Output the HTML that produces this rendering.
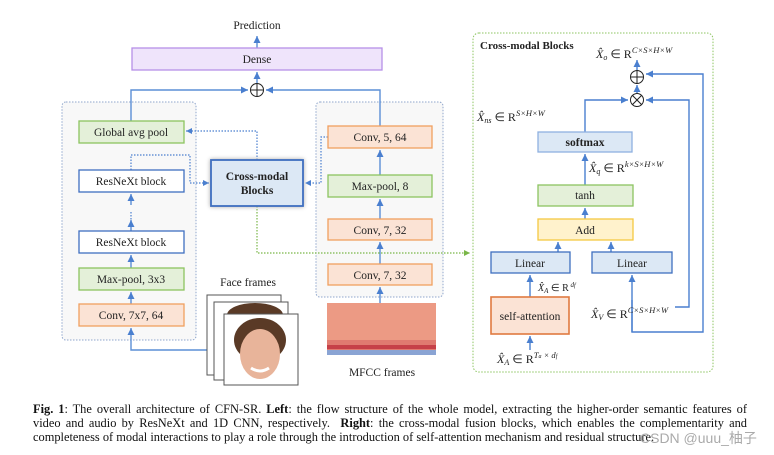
<!DOCTYPE html>
<html><head><meta charset="utf-8"><style>
html,body{margin:0;padding:0;background:#fff;}
svg{display:block;font-family:"Liberation Serif",serif;}
.cap{position:absolute;left:33px;width:714px;font:12.4px/14px "Liberation Serif",serif;color:#111;white-space:nowrap;}
.j{text-align:justify;text-align-last:justify;}
</style></head><body>
<div style="position:relative;width:774px;height:455px;overflow:hidden">
<svg width="774" height="455" viewBox="0 0 774 455" xmlns="http://www.w3.org/2000/svg">
<defs>
<marker id="a" markerWidth="6" markerHeight="6" refX="5" refY="3" orient="auto"><path d="M0,0.5 L5,3 L0,5.5z" fill="#4a7fcf"/></marker>
<marker id="g" markerWidth="6" markerHeight="6" refX="5" refY="3" orient="auto"><path d="M0,0.5 L5,3 L0,5.5z" fill="#7ab648"/></marker>
</defs>
<g font-size="11.5" fill="#222" text-anchor="middle">
<text x="257" y="29">Prediction</text>
<rect x="62" y="102" width="134" height="238" rx="4" fill="#f8f8f8" stroke="#8fa6cc" stroke-dasharray="1.5,1.5"/>
<rect x="316" y="102" width="127" height="195" rx="4" fill="#f8f8f8" stroke="#8fa6cc" stroke-dasharray="1.5,1.5"/>
<rect x="473" y="33" width="240" height="339" rx="6" fill="#fff" stroke="#8cc460" stroke-dasharray="1.5,1.5"/>
<g stroke="#5b8fd6" stroke-width="1.4" fill="none">
<line x1="257" y1="48" x2="257" y2="36" marker-end="url(#a)"/>
<line x1="257" y1="83" x2="257" y2="72" marker-end="url(#a)"/>
<polyline points="131,121 131,90 248,90" marker-end="url(#a)"/>
<polyline points="380,126 380,90 266,90" marker-end="url(#a)"/>
<line x1="131" y1="304" x2="131" y2="292" marker-end="url(#a)"/>
<line x1="131" y1="268" x2="131" y2="255" marker-end="url(#a)"/>
<line x1="131" y1="231" x2="131" y2="220" marker-end="url(#a)"/>
<line x1="131" y1="205" x2="131" y2="194" marker-end="url(#a)"/>
<polyline points="224,350 131,350 131,328" marker-end="url(#a)"/>
<line x1="380" y1="303" x2="380" y2="287" marker-end="url(#a)"/>
<line x1="380" y1="264" x2="380" y2="242" marker-end="url(#a)"/>
<line x1="380" y1="219" x2="380" y2="199" marker-end="url(#a)"/>
<line x1="380" y1="175" x2="380" y2="150" marker-end="url(#a)"/>
</g>
<g stroke="#4a7fcf" stroke-width="1.2" fill="none" stroke-dasharray="1.5,1.5">
<polyline points="257,160 257,131 186,131" marker-end="url(#a)"/>
<polyline points="131,170 131,155 190,155 190,183 209,183" marker-end="url(#a)"/>
<polyline points="328,137 321,137 321,183 305,183" marker-end="url(#a)"/>
<line x1="131" y1="212" x2="131" y2="222"/>
</g>
<polyline points="257,206 257,253 470,253" stroke="#7ab648" stroke-width="1.2" fill="none" stroke-dasharray="1.5,1.5" marker-end="url(#g)"/>
<circle cx="257" cy="90" r="6.5" fill="#fff" stroke="#222"/><path d="M250.5,90h13M257,83.5v13" stroke="#222"/>
<rect x="132" y="48" width="250" height="22" fill="#efe4fb" stroke="#b690e8" stroke-width="1.3"/><text x="257" y="63">Dense</text>
<rect x="79" y="121" width="105" height="22" fill="#e4f0d9" stroke="#8cc460" stroke-width="1.3"/><text x="131" y="136">Global avg pool</text>
<rect x="79" y="170" width="105" height="22" fill="#fff" stroke="#3f6fc0" stroke-width="1.3"/><text x="131" y="185">ResNeXt block</text>
<rect x="79" y="231" width="105" height="22" fill="#fff" stroke="#3f6fc0" stroke-width="1.3"/><text x="131" y="246">ResNeXt block</text>
<rect x="79" y="268" width="105" height="22" fill="#e4f0d9" stroke="#8cc460" stroke-width="1.3"/><text x="131" y="283">Max-pool, 3x3</text>
<rect x="79" y="304" width="105" height="22" fill="#fbe3d5" stroke="#f0a060" stroke-width="1.3"/><text x="131" y="319">Conv, 7x7, 64</text>
<rect x="211" y="160" width="92" height="46" fill="#dce8f5" stroke="#3f6fc0" stroke-width="1.8" style="filter:drop-shadow(0 0 2px #aaa)"/>
<text x="257" y="180" font-weight="bold">Cross-modal</text><text x="257" y="194" font-weight="bold">Blocks</text>
<rect x="328" y="126" width="104" height="22" fill="#fbe3d5" stroke="#f0a060" stroke-width="1.3"/><text x="380" y="141">Conv, 5, 64</text>
<rect x="328" y="175" width="104" height="22" fill="#e4f0d9" stroke="#8cc460" stroke-width="1.3"/><text x="380" y="190">Max-pool, 8</text>
<rect x="328" y="219" width="104" height="21" fill="#fbe3d5" stroke="#f0a060" stroke-width="1.3"/><text x="380" y="234">Conv, 7, 32</text>
<rect x="328" y="264" width="104" height="21" fill="#fbe3d5" stroke="#f0a060" stroke-width="1.3"/><text x="380" y="279">Conv, 7, 32</text>
<text x="248" y="286">Face frames</text>
<text x="382" y="376">MFCC frames</text>
<rect x="327" y="303" width="109" height="52" fill="#ec9a84"/>
<rect x="327" y="340" width="109" height="10" fill="#e07a70"/>
<rect x="327" y="345" width="109" height="4" fill="#c64048"/>
<rect x="327" y="350" width="109" height="5" fill="#8aa4d4"/>
<rect x="207" y="295" width="74" height="80" fill="#fff" stroke="#555"/>
<rect x="214" y="302" width="74" height="78" fill="#fff" stroke="#555"/>
<ellipse cx="255" cy="315" rx="28" ry="12" fill="#5a3a26"/>
<rect x="224" y="314" width="74" height="71" fill="#fff" stroke="#555"/>
<ellipse cx="260" cy="340" rx="26" ry="22" fill="#5a3a26"/>
<ellipse cx="260" cy="354" rx="20" ry="25" fill="#e8b49a"/>
<path d="M251,368 q9,6 18,0" stroke="#fff" stroke-width="3" fill="none"/>
<text x="480" y="49" text-anchor="start" font-weight="bold" font-size="11">Cross-modal Blocks</text>
<g stroke="#4a7fcf" stroke-width="1.4" fill="none">
<line x1="637" y1="70" x2="637" y2="60" marker-end="url(#a)"/>
<line x1="637" y1="93" x2="637" y2="85" marker-end="url(#a)"/>
<polyline points="585,132 585,100 628,100" marker-end="url(#a)"/>
<line x1="585" y1="185" x2="585" y2="154" marker-end="url(#a)"/>
<line x1="585" y1="219" x2="585" y2="208" marker-end="url(#a)"/>
<line x1="558" y1="252" x2="558" y2="242" marker-end="url(#a)"/>
<line x1="611" y1="252" x2="611" y2="242" marker-end="url(#a)"/>
<line x1="530" y1="297" x2="530" y2="275" marker-end="url(#a)"/>
<line x1="530" y1="350" x2="530" y2="336" marker-end="url(#a)"/>
<polyline points="632,332 632,301 632,275" marker-end="url(#a)"/>
<polyline points="632,300 632,332 703,332 703,74 646,74" marker-end="url(#a)"/>
<polyline points="675,307 689,307 689,100 646,100" marker-end="url(#a)"/>
</g>
<circle cx="637" cy="77" r="6.5" fill="#fff" stroke="#222"/><path d="M630.5,77h13M637,70.5v13" stroke="#222"/>
<circle cx="637" cy="100" r="6.5" fill="#fff" stroke="#222"/><path d="M632.4,95.4l9.2,9.2M641.6,95.4l-9.2,9.2" stroke="#222"/>
<rect x="538" y="132" width="94" height="20" fill="#dce8f5" stroke="#8fb0e0" stroke-width="1.3"/><text x="585" y="146" font-weight="bold">softmax</text>
<rect x="538" y="185" width="95" height="21" fill="#e4f0d9" stroke="#8cc460" stroke-width="1.3"/><text x="585" y="199">tanh</text>
<rect x="538" y="219" width="95" height="21" fill="#fff2cc" stroke="#f5c842" stroke-width="1.3"/><text x="585" y="234">Add</text>
<rect x="491" y="252" width="79" height="21" fill="#dce8f5" stroke="#3f6fc0" stroke-width="1.3"/><text x="530" y="267">Linear</text>
<rect x="592" y="252" width="80" height="21" fill="#dce8f5" stroke="#3f6fc0" stroke-width="1.3"/><text x="632" y="267">Linear</text>
<rect x="491" y="297" width="78" height="37" fill="#fbe3d5" stroke="#e07a40" stroke-width="1.6"/><text x="530" y="320">self-attention</text>
<g font-style="italic" font-size="12" text-anchor="start">
<text x="596" y="58">X̂<tspan font-size="8" dy="2">o</tspan><tspan dy="-2" font-style="normal"> ∈ R</tspan><tspan font-size="8.5" dy="-5">C×S×H×W</tspan></text>
<text x="477" y="121">X̂<tspan font-size="8" dy="2">ns</tspan><tspan dy="-2" font-style="normal"> ∈ R</tspan><tspan font-size="8.5" dy="-5">S×H×W</tspan></text>
<text x="589" y="172">X̂<tspan font-size="8" dy="2">q</tspan><tspan dy="-2" font-style="normal"> ∈ R</tspan><tspan font-size="8.5" dy="-5">k×S×H×W</tspan></text>
<text x="538" y="291" font-size="10">X̂<tspan font-size="7" dy="2">A</tspan><tspan dy="-2" font-style="normal"> ∈ R</tspan><tspan font-size="7" dy="-4"> d<tspan font-size="6">f</tspan></tspan></text>
<text x="591" y="318">X̂<tspan font-size="8" dy="2">V</tspan><tspan dy="-2" font-style="normal"> ∈ R</tspan><tspan font-size="8.5" dy="-5">C×S×H×W</tspan></text>
<text x="497" y="363">X̂<tspan font-size="8" dy="2">A</tspan><tspan dy="-2" font-style="normal"> ∈ R</tspan><tspan font-size="8.5" dy="-5">T<tspan font-size="6">a</tspan> × d<tspan font-size="6">f</tspan></tspan></text>
</g>
</g>
</svg>
<div class="cap j" style="top:402px"><b>Fig. 1</b>: The overall architecture of CFN-SR. <b>Left</b>: the flow structure of the whole model, extracting the higher-order semantic features of</div>
<div class="cap j" style="top:416px">video and audio by ResNeXt and 1D CNN, respectively. &nbsp;<b>Right</b>: the cross-modal fusion blocks, which enables the complementarity and</div>
<div class="cap" style="top:430px">completeness of modal interactions to play a role through the introduction of self-attention mechanism and residual structure.</div>
<div style="position:absolute;left:640px;top:428px;font:14px 'Liberation Sans','Noto Sans CJK SC',sans-serif;color:#aaa">CSDN @uuu_柚子</div>
</div>
</body></html>
